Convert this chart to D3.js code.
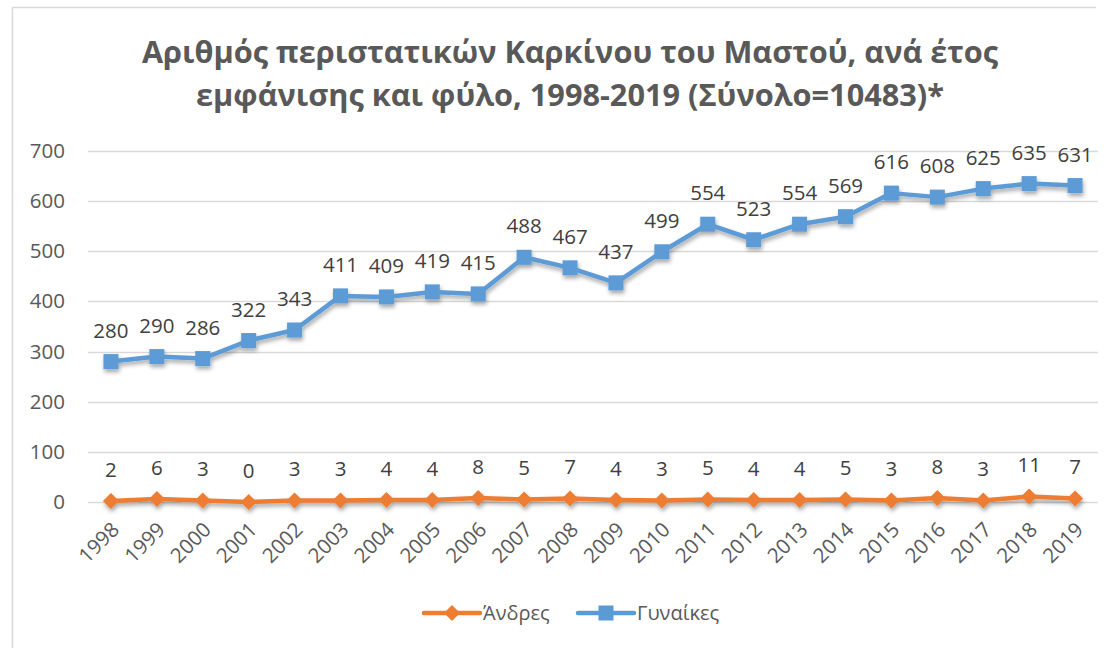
<!DOCTYPE html>
<html>
<head>
<meta charset="utf-8">
<script src="https://cdn.jsdelivr.net/npm/d3@7"></script>
<style>
  body { margin: 0; background: #fff; }
  svg { display: block; font-family: "Open Sans", "Noto Sans", sans-serif; }
</style>
</head>
<body>
<div id="chart"></div>
<script>
var years = ["1998","1999","2000","2001","2002","2003","2004","2005","2006","2007","2008",
             "2009","2010","2011","2012","2013","2014","2015","2016","2017","2018","2019"];
var andres = [2,6,3,0,3,3,4,4,8,5,7,4,3,5,4,4,5,3,8,3,11,7];
var gynaikes = [280,290,286,322,343,411,409,419,415,488,467,437,499,554,523,554,569,616,608,625,635,631];
var yTicks = [0,100,200,300,400,500,600,700];
var titleLines = ["Αριθμός περιστατικών Καρκίνου του Μαστού, ανά έτος",
                  "εμφάνισης και φύλο, 1998-2019 (Σύνολο=10483)*"];

(function(){
  var width = 1104, height = 648;
  var plot = {left: 88, right: 1098, top: 151, bottom: 502};

  var svg = d3.select("#chart").append("svg")
    .attr("width", width)
    .attr("height", height);

  // shadow under the lines, like the office chart
  var defs = svg.append("defs");
  var f = defs.append("filter").attr("id", "shadow")
    .attr("x", "-20%").attr("y", "-20%").attr("width", "140%").attr("height", "160%");
  f.append("feDropShadow").attr("dx", 1).attr("dy", 3).attr("stdDeviation", 2)
    .attr("flood-color", "#000").attr("flood-opacity", 0.35);

  // chart frame (top + left visible)
  svg.append("path")
    .attr("d", "M12.5,648 V7.5 H1096")
    .attr("fill", "none")
    .attr("stroke", "#d9d9d9")
    .attr("stroke-width", 1.5);

  svg.selectAll(".title")
    .data(titleLines)
    .enter().append("text")
    .attr("class", "title")
    .attr("x", 570)
    .attr("y", function(d, i) { return 63 + i * 43; })
    .attr("text-anchor", "middle")
    .attr("font-size", 30.7)
    .attr("font-weight", "bold")
    .attr("fill", "#595959")
    .text(function(d) { return d; });

  var x = d3.scalePoint().domain(years).range([plot.left, plot.right]).padding(0.5);
  var y = d3.scaleLinear().domain([0, 700]).range([plot.bottom, plot.top]);

  // gridlines
  svg.append("g").selectAll("line")
    .data(yTicks)
    .enter().append("line")
    .attr("x1", plot.left).attr("x2", plot.right)
    .attr("y1", function(d) { return Math.round(y(d)) + 0.5; })
    .attr("y2", function(d) { return Math.round(y(d)) + 0.5; })
    .attr("stroke", "#d9d9d9")
    .attr("stroke-width", 1.5);

  // y axis
  var yAxis = svg.append("g")
    .attr("transform", "translate(" + plot.left + ",0)")
    .call(d3.axisLeft(y).tickValues(yTicks).tickSize(0).tickPadding(23));
  yAxis.select(".domain").remove();
  yAxis.selectAll("text")
    .attr("font-size", 20.5)
    .attr("fill", "#595959")
    .attr("font-family", "Open Sans, sans-serif");

  // x axis
  var xAxis = svg.append("g")
    .attr("transform", "translate(0," + plot.bottom + ")")
    .call(d3.axisBottom(x).tickSize(0).tickPadding(0));
  xAxis.select(".domain").remove();
  xAxis.selectAll("text")
    .attr("font-size", 20.5)
    .attr("fill", "#595959")
    .attr("font-family", "Open Sans, sans-serif")
    .attr("text-anchor", "end")
    .attr("dy", 0)
    .attr("transform", "translate(9,29) rotate(-45)");

  var line = d3.line()
    .x(function(d, i) { return x(years[i]); })
    .y(function(d) { return y(d); });

  var series = [
    {name: "Άνδρες", values: andres, color: "#ED7D31", marker: "diamond"},
    {name: "Γυναίκες", values: gynaikes, color: "#5B9BD5", marker: "square"}
  ];

  function marker(sel, type, color) {
    if (type === "square") {
      sel.append("rect")
        .attr("x", -7.5).attr("y", -7.5).attr("width", 15).attr("height", 15)
        .attr("fill", color);
    } else {
      sel.append("path")
        .attr("d", "M0,-8 L8,0 L0,8 L-8,0 Z")
        .attr("fill", color);
    }
  }

  series.forEach(function(s) {
    var g = svg.append("g").attr("filter", "url(#shadow)");
    g.append("path")
      .datum(s.values)
      .attr("d", line)
      .attr("fill", "none")
      .attr("stroke", s.color)
      .attr("stroke-width", 4.5)
      .attr("stroke-linejoin", "round");

    g.selectAll(".pt")
      .data(s.values)
      .enter().append("g")
      .attr("transform", function(d, i) { return "translate(" + x(years[i]) + "," + y(d) + ")"; })
      .each(function() { marker(d3.select(this), s.marker, s.color); });

    svg.append("g").selectAll("text")
      .data(s.values)
      .enter().append("text")
      .attr("x", function(d, i) { return x(years[i]); })
      .attr("y", function(d) { return y(d) - 24; })
      .attr("text-anchor", "middle")
      .attr("font-size", 20.5)
      .attr("fill", "#404040")
      .text(function(d) { return d; });
  });

  // legend
  var legend = svg.append("g").attr("transform", "translate(0,613)");
  var legendPos = [424, 578];
  series.forEach(function(s, i) {
    var lg = legend.append("g").attr("transform", "translate(" + legendPos[i] + ",0)");
    lg.append("line")
      .attr("x1", 0).attr("x2", 56)
      .attr("stroke", s.color).attr("stroke-width", 4.5)
      .attr("stroke-linecap", "round");
    var m = lg.append("g").attr("transform", "translate(28,0)");
    marker(m, s.marker, s.color);
    lg.append("text")
      .attr("x", 59)
      .attr("y", 7)
      .attr("font-size", 20)
      .attr("fill", "#595959")
      .text(s.name);
  });
})();
</script>
</body>
</html>
